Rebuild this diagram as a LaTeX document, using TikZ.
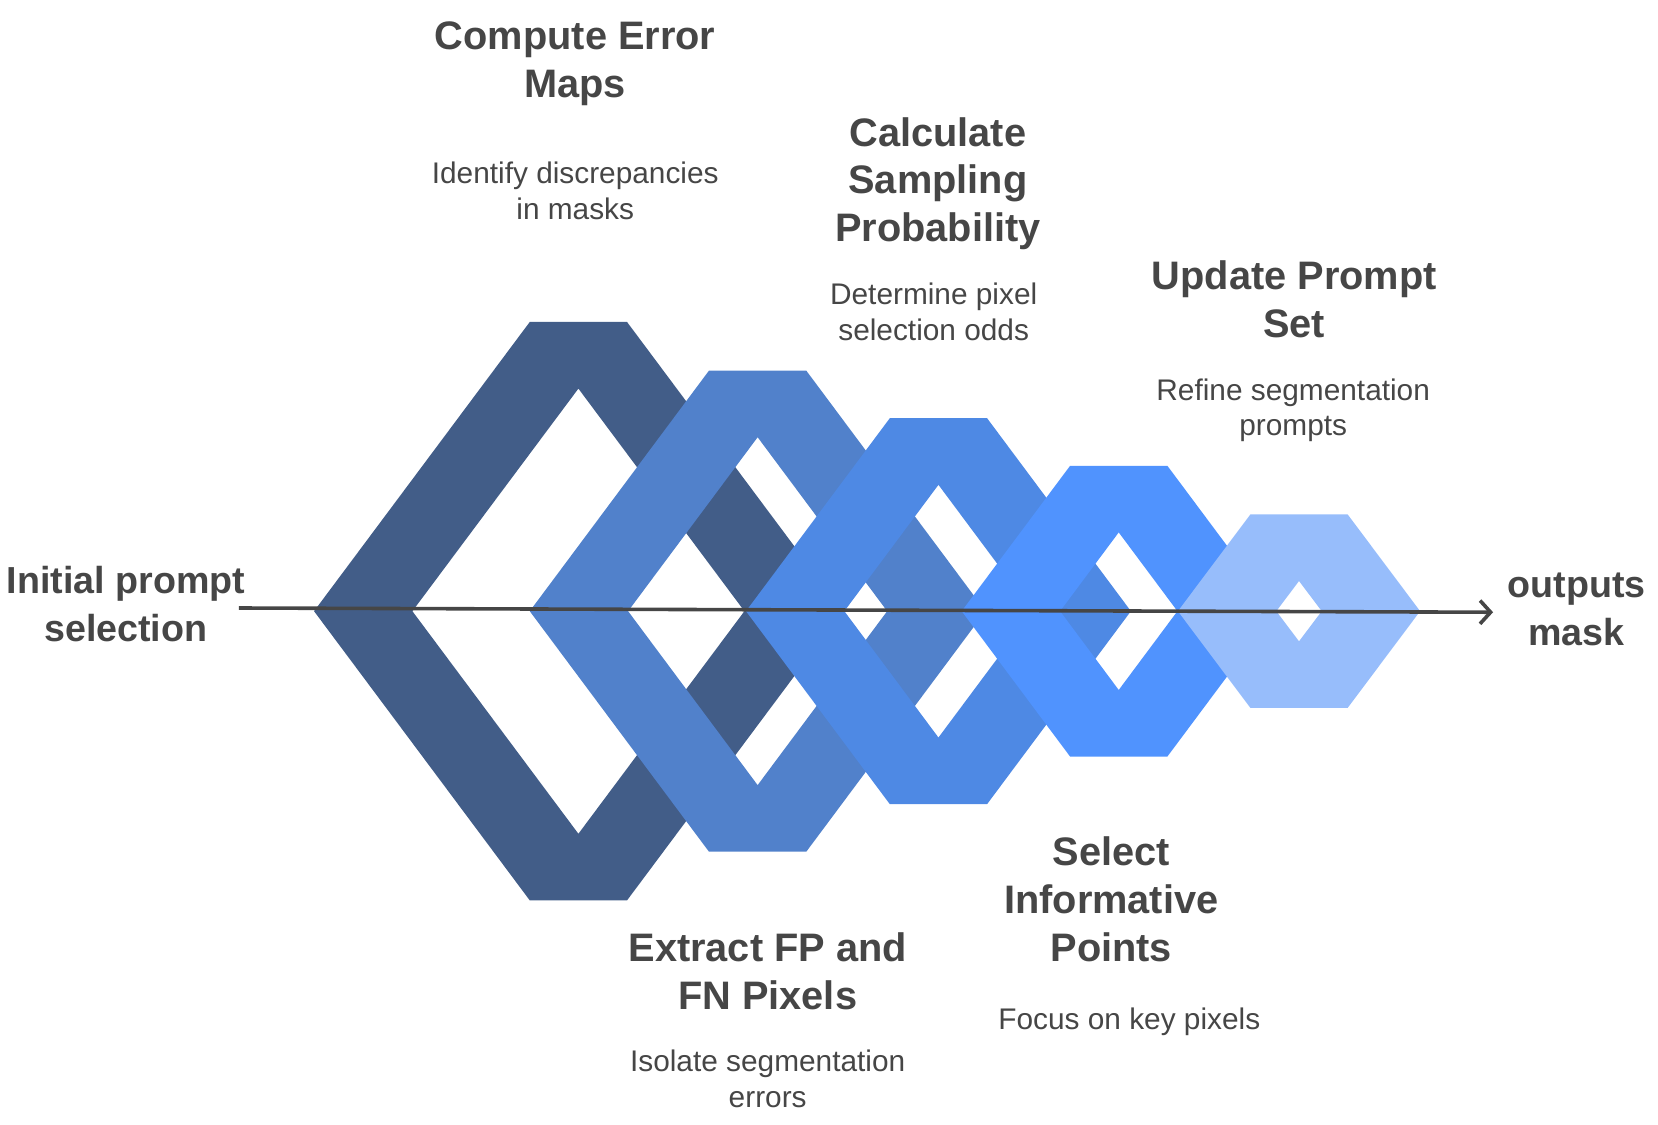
\documentclass[tikz,border=0pt]{standalone}
\usepackage{fontspec}
\setmainfont{Liberation Sans}
\usetikzlibrary{arrows.meta}
\definecolor{ringA}{HTML}{425D88}
\definecolor{ringB}{HTML}{5181CB}
\definecolor{ringC}{HTML}{4E89E4}
\definecolor{ringD}{HTML}{5093FE}
\definecolor{ringE}{HTML}{97BDFB}
\definecolor{inkgray}{HTML}{464646}
\begin{document}
\begin{tikzpicture}[x=0.5pt,y=-0.5pt,
  title/.style={text=inkgray,align=center,inner sep=0pt,font=\fontsize{18.8}{22.5}\selectfont\bfseries},
  side/.style={text=inkgray,align=center,inner sep=0pt,font=\fontsize{17.8}{22.5}\selectfont\bfseries},
  sub/.style={text=inkgray,align=center,inner sep=0pt,font=\fontsize{14.1}{17}\selectfont}]
\useasboundingbox (0,0) rectangle (1568,1063);

\fill[ringA,even odd rule] (297,578) -- (501,304.5) -- (593,304.5) -- (797,578) -- (593,851.5) -- (501,851.5) -- cycle
  (390,578) -- (547,367.5) -- (704,578) -- (547,788.5) -- cycle;
\fill[ringB,even odd rule] (501,578) -- (670.5,350.5) -- (762.5,350.5) -- (932,578) -- (762.5,805.5) -- (670.5,805.5) -- cycle
  (594,578) -- (716.5,413.5) -- (839,578) -- (716.5,742.5) -- cycle;
\fill[ringC,even odd rule] (705.5,578) -- (841.5,395.5) -- (933.5,395.5) -- (1069.5,578) -- (933.5,760.5) -- (841.5,760.5) -- cycle
  (798.5,578) -- (887.5,458.5) -- (976.5,578) -- (887.5,697.5) -- cycle;
\fill[ringD,even odd rule] (909.5,578) -- (1012,440.5) -- (1104,440.5) -- (1206.5,578) -- (1104,715.5) -- (1012,715.5) -- cycle
  (1002.5,578) -- (1058,503.5) -- (1113.5,578) -- (1058,652.5) -- cycle;
\fill[ringE,even odd rule] (1114,578) -- (1182.5,486.5) -- (1274.5,486.5) -- (1343,578) -- (1274.5,669.5) -- (1182.5,669.5) -- cycle
  (1207,578) -- (1228.5,549.5) -- (1250,578) -- (1228.5,606.5) -- cycle;

% labels at the ends of the line
\node[side] (init) at (119,571.5) {Initial prompt\\selection};
\node[side] (outm) at (1491,576.5) {outputs\\mask};
\coordinate (lstart) at (226,575);
\coordinate (lend) at (1412,579);
\draw[inkgray,line width=1.7pt,-{Straight Barb[length=5pt,width=11pt,line width=1.7pt]}] (lstart) -- (lend);

% steps
\node[title] (err) at (544,60.5) {Compute Error\\Maps};
\node[sub] (errsub) at (544,180.5) {Identify discrepancies\\in masks};
\node[title] (prob) at (887,173.5) {Calculate\\Sampling\\Probability};
\node[sub] (probsub) at (883,294.5) {Determine pixel\\selection odds};
\node[title] (upd) at (1224,283) {Update Prompt\\Set};
\node[sub] (updsub) at (1223,388) {Refine segmentation\\prompts};
\node[title] (sel) at (1051,850.5) {Select\\Informative\\Points};
\node[sub] (selsub) at (1068,966) {Focus on key pixels};
\node[title] (fpfn) at (726,918.5) {Extract FP and\\FN Pixels};
\node[sub] (fpfnsub) at (726,1020) {Isolate segmentation\\errors};

\end{tikzpicture}
\end{document}
